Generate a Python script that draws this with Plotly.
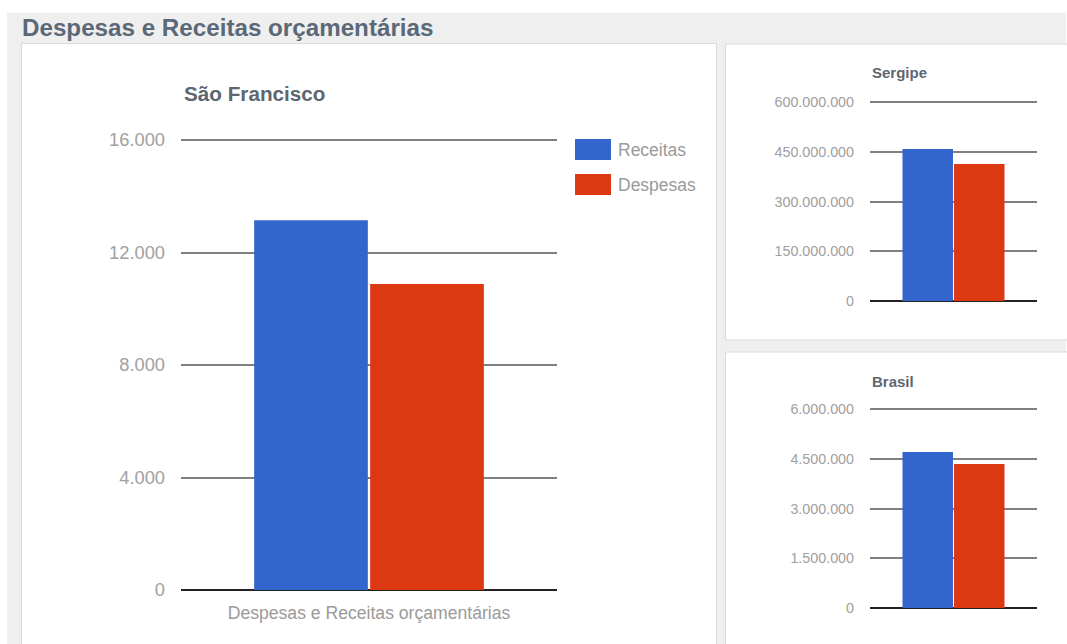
import plotly.graph_objects as go

# Dados: despesas e receitas orçamentárias
series_names = ["Receitas", "Despesas"]
series_colors = ["#3366cc", "#dc3912"]
category = ["Despesas e Receitas orçamentárias"]

sao_francisco = [13150, 10880]
sergipe = [458_000_000, 413_000_000]
brasil = [4_700_000, 4_340_000]

sf_ticks = [0, 4000, 8000, 12000, 16000]
sf_ticktext = ["0", "4.000", "8.000", "12.000", "16.000"]
se_ticks = [0, 150_000_000, 300_000_000, 450_000_000, 600_000_000]
se_ticktext = ["0", "150.000.000", "300.000.000", "450.000.000", "600.000.000"]
br_ticks = [0, 1_500_000, 3_000_000, 4_500_000, 6_000_000]
br_ticktext = ["0", "1.500.000", "3.000.000", "4.500.000", "6.000.000"]

W, H = 1067, 644
FONT = "Liberation Sans, Arial, sans-serif"
TICK_COLOR = "#a0a0a0"
GRID_COLOR = "#808080"
HEADROOM = 1.012  # a little room above the top tick so its gridline is drawn


def px(x):
    return x / W


def py(y):
    return 1 - y / H


fig = go.Figure()

panels = [
    ("x", "y", sao_francisco),
    ("x2", "y2", sergipe),
    ("x3", "y3", brasil),
]
for xa, ya, vals in panels:
    for name, color, v in zip(series_names, series_colors, vals):
        fig.add_trace(go.Bar(
            x=category, y=[v], name=name, xaxis=xa, yaxis=ya,
            marker=dict(color=color, line=dict(width=0)),
            showlegend=False, hoverinfo="skip",
        ))


def yaxis(zero_px, top_px, ticks, text, size, anchor):
    top_val = ticks[-1] * HEADROOM
    top_edge = zero_px - (zero_px - top_px) * HEADROOM
    return dict(
        domain=[py(zero_px), py(top_edge)], range=[0, top_val],
        anchor=anchor, tickvals=ticks, ticktext=text,
        showgrid=True, gridcolor=GRID_COLOR, gridwidth=1.5,
        zeroline=True, zerolinecolor="#222222", zerolinewidth=2,
        showline=False, ticks="", ticklabelstandoff=15, automargin=False,
        tickfont=dict(family=FONT, size=size, color=TICK_COLOR),
        fixedrange=True,
    )


def xaxis(domain, anchor, show_labels):
    return dict(
        domain=domain, anchor=anchor, showgrid=False, zeroline=False,
        showline=False, ticks="", showticklabels=show_labels, automargin=False,
        tickfont=dict(family=FONT, size=17.6, color="#9a9a9a"),
        ticklabelstandoff=10, fixedrange=True,
    )


fig.update_layout(
    width=W, height=H, autosize=False,
    margin=dict(l=0, r=0, t=0, b=0, pad=0),
    paper_bgcolor="white", plot_bgcolor="rgba(0,0,0,0)",
    barmode="group", bargap=0.383, bargroupgap=0.02,
    showlegend=False,
    xaxis=xaxis([px(181), px(557)], "y", True),
    yaxis=yaxis(590, 140, sf_ticks, sf_ticktext, 18.3, "x"),
    xaxis2=xaxis([px(870), px(1037)], "y2", False),
    yaxis2=yaxis(301, 102, se_ticks, se_ticktext, 14.3, "x2"),
    xaxis3=xaxis([px(870), px(1037)], "y3", False),
    yaxis3=yaxis(608, 409, br_ticks, br_ticktext, 14.3, "x3"),
)

# Fundo cinza e painéis brancos
shapes = [
    dict(type="rect", xref="paper", yref="paper", layer="below",
         x0=px(7), x1=px(1066), y0=0, y1=py(12.5),
         fillcolor="#efefef", line=dict(width=0)),
]
for x0, y0, x1, y1 in [(21.5, 43.5, 716.5, 650), (725.5, 44, 1075, 340),
                       (725.5, 352, 1075, 650)]:
    shapes.append(dict(type="rect", xref="paper", yref="paper", layer="below",
                       x0=px(x0), x1=px(x1), y0=py(y1), y1=py(y0),
                       fillcolor="white", line=dict(color="#dadada", width=1)))

# Legenda
for i, (name, color) in enumerate(zip(series_names, series_colors)):
    top = 139 + i * 35
    shapes.append(dict(type="rect", xref="paper", yref="paper",
                       x0=px(575), x1=px(611), y0=py(top + 21), y1=py(top),
                       fillcolor=color, line=dict(width=0)))
    fig.add_annotation(x=px(616), y=py(top + 11), xref="paper", yref="paper",
                       text=name, showarrow=False, xanchor="left", yanchor="middle",
                       font=dict(family=FONT, size=17.5, color="#9a9a9a"))
fig.update_layout(shapes=shapes)

# Títulos
fig.add_annotation(x=px(20), y=py(28), xref="paper", yref="paper",
                   text="<b>Despesas e Receitas orçamentárias</b>", showarrow=False,
                   xanchor="left", yanchor="middle",
                   font=dict(family=FONT, size=24.2, color="#5b6878"))
fig.add_annotation(x=px(182), y=py(93), xref="paper", yref="paper",
                   text="<b>São Francisco</b>", showarrow=False,
                   xanchor="left", yanchor="middle",
                   font=dict(family=FONT, size=20.7, color="#5e6670"))
fig.add_annotation(x=px(870), y=py(73), xref="paper", yref="paper",
                   text="<b>Sergipe</b>", showarrow=False,
                   xanchor="left", yanchor="middle",
                   font=dict(family=FONT, size=15, color="#5e6670"))
fig.add_annotation(x=px(870), y=py(381), xref="paper", yref="paper",
                   text="<b>Brasil</b>", showarrow=False,
                   xanchor="left", yanchor="middle",
                   font=dict(family=FONT, size=15, color="#5e6670"))

fig.write_html("out.html", config={"displayModeBar": False})
